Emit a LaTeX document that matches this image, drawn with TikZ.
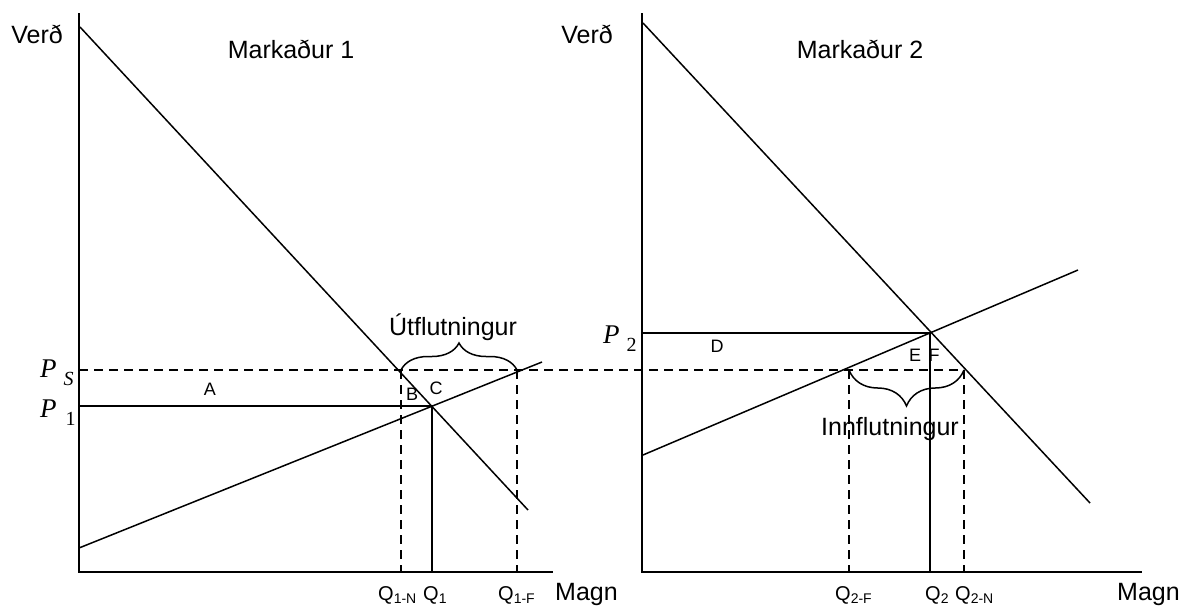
\documentclass[tikz,border=0pt]{standalone}
\usepackage{fontspec}
\setmainfont{Liberation Sans}
\newfontfamily\pfont{Liberation Serif}
\usetikzlibrary{decorations.pathreplacing}

\begin{document}
\begin{tikzpicture}[x=1pt,y=-1pt,
    axis/.style={line width=2.5pt},
    curve/.style={line width=1.5pt},
    guide/.style={line width=1.5pt,dash pattern=on 9pt off 6pt},
    bigtext/.style={inner sep=0pt,anchor=base,font=\fontsize{25}{30}\selectfont},
    qtext/.style={inner sep=0pt,anchor=base west,font=\fontsize{20}{24}\selectfont},
    area/.style={inner sep=0pt,font=\fontsize{18}{20}\selectfont}]
    \useasboundingbox (0,0) rectangle (1189,608);

    % Define the price labels
    \def\pP{{\pfont\itshape\fontsize{27}{30}\selectfont P}}
    \def\pSub#1{\raisebox{-8pt}{\pfont\fontsize{20}{24}\selectfont #1}}

    % Define the points of market 1
    \coordinate (O1) at (79,572);
    \coordinate (Y1) at (79,13);
    \coordinate (X1) at (553,572);
    \coordinate (D1a) at (80,27);
    \coordinate (D1b) at (528,510);
    \coordinate (S1a) at (79,548);
    \coordinate (S1b) at (542,362);
    \coordinate (E1) at (432,406);
    \coordinate (P1) at (79,406);
    \coordinate (Q1) at (432,572);
    \coordinate (N1) at (401,370);
    \coordinate (N1b) at (401,572);
    \coordinate (F1) at (517,370);
    \coordinate (F1b) at (517,572);
    \coordinate (PS) at (79,370);

    % Define the points of market 2
    \coordinate (O2) at (642,572);
    \coordinate (Y2) at (642,13);
    \coordinate (X2) at (1142,572);
    \coordinate (D2a) at (643,23);
    \coordinate (D2b) at (1090,503);
    \coordinate (S2a) at (643,455);
    \coordinate (S2b) at (1078,270);
    \coordinate (E2) at (930,333);
    \coordinate (P2) at (642,333);
    \coordinate (Q2) at (930,572);
    \coordinate (F2) at (849,370);
    \coordinate (F2b) at (849,572);
    \coordinate (N2) at (964,370);
    \coordinate (N2b) at (964,572);

    % Draw the axes
    \draw[axis] (Y1) -- (O1) -- (X1);
    \draw[axis] (Y2) -- (O2) -- (X2);

    % Draw demand and supply
    \draw[curve] (D1a) -- (D1b);
    \draw[curve] (S1a) -- (S1b);
    \draw[curve] (D2a) -- (D2b);
    \draw[curve] (S2a) -- (S2b);

    % Equilibrium lines
    \draw[curve] (P1) -- (E1) -- (Q1);
    \draw[curve] (P2) -- (E2) -- (Q2);

    % World price and quantities
    \draw[guide] (PS) -- (N2);
    \draw[guide] (N1) -- (N1b);
    \draw[guide] (F1) -- (F1b);
    \draw[guide] (F2) -- (F2b);
    \draw[guide] (N2) -- (N2b);

    % Braces
    \draw[curve,decorate,decoration={brace,amplitude=27pt}] (N1) -- (F1);
    \draw[curve,decorate,decoration={brace,amplitude=36pt}] (N2) -- (F2);

    % Axis labels
    \node[bigtext,anchor=base east] (verd1) at (63,43) {Verð};
    \node[bigtext,anchor=base east] (verd2) at (613,43) {Verð};
    \node[bigtext] (mark1) at (291,58) {Markaður 1};
    \node[bigtext] (mark2) at (860,58) {Markaður 2};
    \node[bigtext,anchor=base west] (magn1) at (555,600) {Magn};
    \node[bigtext,anchor=base west] (magn2) at (1117,600) {Magn};
    \node[bigtext] (utfl) at (453,335) {Útflutningur};
    \node[bigtext] (innfl) at (890,435) {Innflutningur};

    % Price labels
    \node[inner sep=0pt,anchor=base west] (ps) at (40,377) {\pP\hspace{7pt}\pSub{\itshape S}};
    \node[inner sep=0pt,anchor=base west] (p1) at (40,417) {\pP\hspace{9pt}\pSub{1}};
    \node[inner sep=0pt,anchor=base west] (p2) at (603,343) {\pP\hspace{7pt}\pSub{2}};

    % Quantity labels
    \node[qtext] (q1n) at (378,600) {Q\textsubscript{1-N}};
    \node[qtext] (q1) at (423,600) {Q\textsubscript{1}};
    \node[qtext] (q1f) at (498,600) {Q\textsubscript{1-F}};
    \node[qtext] (q2f) at (835,600) {Q\textsubscript{2-F}};
    \node[qtext] (q2) at (925,600) {Q\textsubscript{2}};
    \node[qtext] (q2n) at (955,600) {Q\textsubscript{2-N}};

    % Areas
    \node[area] (a) at (210,389) {A};
    \node[area] (b) at (412,394) {B};
    \node[area] (c) at (436,388) {C};
    \node[area] (d) at (717,346) {D};
    \node[area] (e) at (915,355) {E};
    \node[area] (f) at (934,355) {F};

\end{tikzpicture}
\end{document}
